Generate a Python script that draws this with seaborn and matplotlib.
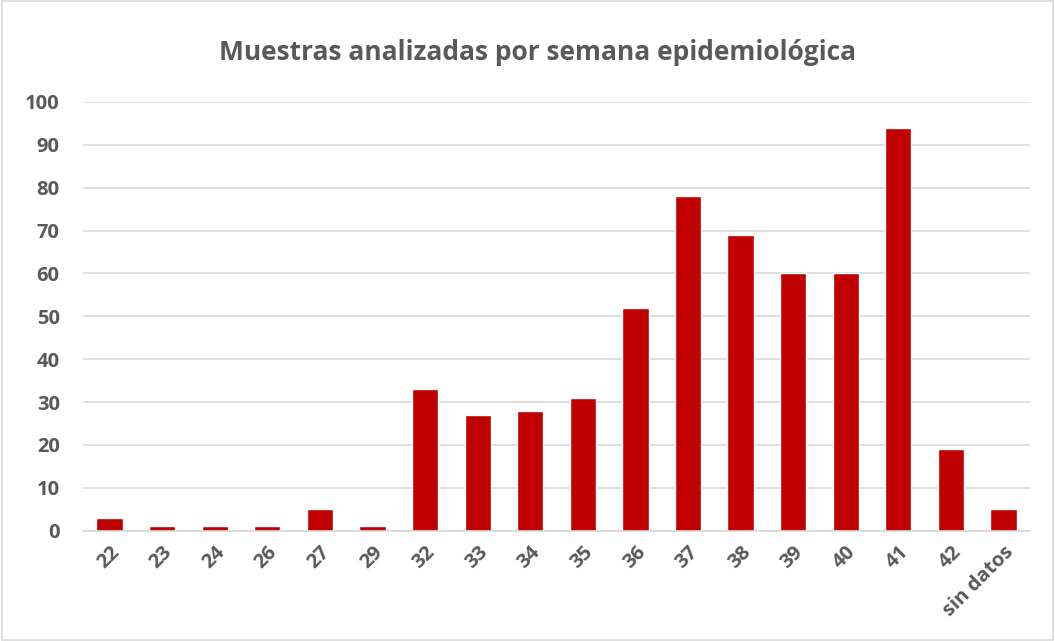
import matplotlib
matplotlib.use('Agg')
import matplotlib.pyplot as plt
import seaborn as sns
import pandas as pd
from matplotlib.patches import Rectangle

# Semanas epidemiológicas y muestras analizadas
semanas = ['22', '23', '24', '26', '27', '29', '32', '33', '34', '35',
           '36', '37', '38', '39', '40', '41', '42', 'sin datos']
muestras = [3, 1, 1, 1, 5, 1, 33, 27, 28, 31, 52, 78, 69, 60, 60, 94, 19, 5]
y_ticks = list(range(0, 101, 10))

df = pd.DataFrame({'Semana': semanas, 'Muestras': muestras})

sns.set_style('white')
plt.rcParams['font.family'] = ['Open Sans', 'DejaVu Sans']

fig = plt.figure(figsize=(10.55, 6.41), dpi=100)
ax = fig.add_axes([0.079, 0.172, 0.897, 0.669])

sns.barplot(data=df, x='Semana', y='Muestras', color='#C00000',
            saturation=1, width=0.5, ax=ax)

ax.set_ylim(0, 100)
ax.set_yticks(y_ticks)
ax.set_axisbelow(True)
ax.yaxis.grid(True, color='#D9D9D9', linewidth=1.2)
ax.xaxis.grid(False)
for s in ['top', 'right', 'left']:
    ax.spines[s].set_visible(False)
ax.spines['bottom'].set_color('#D9D9D9')
ax.spines['bottom'].set_linewidth(1.2)

ax.tick_params(axis='both', length=0, colors='#595959', labelsize=14.5)
ax.tick_params(axis='y', pad=17)
ax.tick_params(axis='x', pad=8)
for lbl in ax.get_xticklabels():
    lbl.set_rotation(45)
    lbl.set_ha('right')
    lbl.set_rotation_mode('anchor')
    lbl.set_fontweight('bold')
for lbl in ax.get_yticklabels():
    lbl.set_fontweight('bold')

ax.set_xlabel('')
ax.set_ylabel('')
fig.text(0.51, 0.918, 'Muestras analizadas por semana epidemiológica',
         ha='center', va='center', fontsize=19, fontweight='bold', color='#595959')

# borde del gráfico
fig.patches.append(Rectangle((0.002, 0.002), 0.996, 0.996, transform=fig.transFigure,
                             fill=False, edgecolor='#D9D9D9', linewidth=1.2))

fig.savefig('out.png', dpi=100)
